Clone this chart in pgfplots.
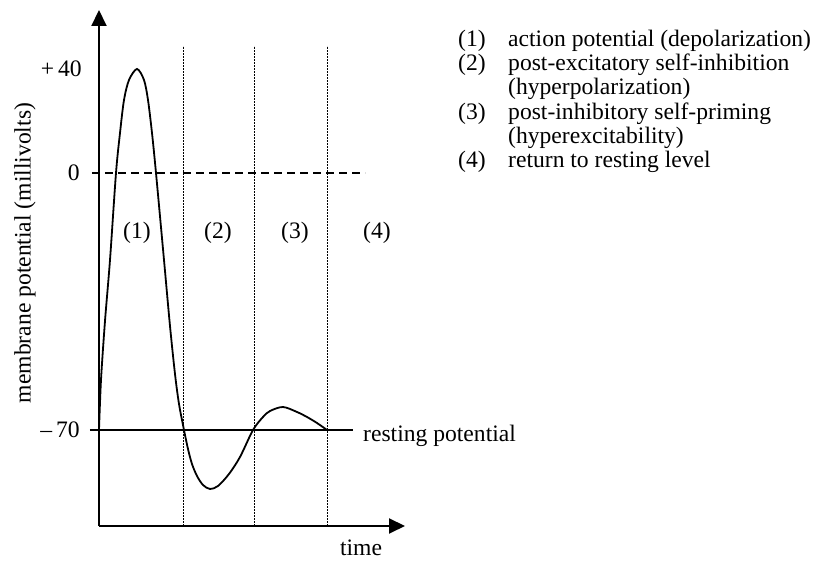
\documentclass[border=0pt]{standalone}
\usepackage{pgfplots}
\pgfplotsset{compat=1.18}
\usepackage{fontspec}
\setmainfont{Liberation Serif}
\usetikzlibrary{arrows.meta}
\newcommand\lbl{\fontsize{23.6}{27}\selectfont}
\tikzset{lab/.style={font=\lbl, inner sep=0pt}}
\begin{document}
\begin{tikzpicture}
\begin{axis}[
  x=1pt, y=1pt,
  xmin=0, xmax=306, ymin=0, ymax=516,
  enlargelimits=false,
  axis lines=left,
  axis line style={line width=2pt, -{Triangle[length=16pt,width=15pt]}},
  xtick=\empty, ytick=\empty,
  clip=false,
]
% invisible frame for the page size
\path (axis cs:-99,-35) rectangle (axis cs:718,526);

% action potential curve
\addplot[line width=1.8pt, smooth, tension=0.5] coordinates {
(0,96) (2,146) (6,205) (11,266) (17,353) (21,393) (25,426) (30,446) (38,457)
(45,446) (49,426) (53,393) (57,353) (65,266) (71,200) (76,152) (80,122) (85,96)
(89,77) (93,62) (98,50) (104,41) (111,37) (119,40) (130,52) (141,69) (154,96)
(164,109) (171,115) (184,119) (198,114) (208,109) (218,103) (228,96)};

% zero line (dashed)
\addplot[line width=1.6pt, dash pattern=on 8pt off 5pt] coordinates {(-7,353) (266,353)};
% resting potential line
\addplot[line width=1.8pt] coordinates {(-9,96) (254,96)};
% phase boundaries (dotted)
\addplot[line width=1pt, dash pattern=on 0.8pt off 0.7pt] coordinates {(85,0) (85,480)};
\addplot[line width=1pt, dash pattern=on 0.8pt off 0.7pt] coordinates {(155,0) (155,480)};
\addplot[line width=1pt, dash pattern=on 0.8pt off 0.7pt] coordinates {(228,0) (228,480)};

% y tick labels
\node[lab, anchor=east] at (axis cs:-17,457) {+\,40};
\node[lab, anchor=east] at (axis cs:-19,353) {0};
\node[lab, anchor=east] at (axis cs:-19,96) {–\,70};
% axis labels
\node[lab, rotate=90] at (axis cs:-74,273) {membrane potential (millivolts)};
\node[lab] at (axis cs:262,-22) {time};
\node[lab, anchor=base west] at (axis cs:264,84) {resting potential};
% phase labels
\node[lab] at (axis cs:38,293) {(1)};
\node[lab] at (axis cs:119,293) {(2)};
\node[lab] at (axis cs:196,293) {(3)};
\node[lab] at (axis cs:278,293) {(4)};
% key
\node[lab, anchor=base west] at (axis cs:359,479) {(1)};
\node[lab, anchor=base west] at (axis cs:409,479) {action potential (depolarization)};
\node[lab, anchor=base west] at (axis cs:359,455) {(2)};
\node[lab, anchor=base west] at (axis cs:409,455) {post-excitatory self-inhibition};
\node[lab, anchor=base west] at (axis cs:409,431) {(hyperpolarization)};
\node[lab, anchor=base west] at (axis cs:359,406.5) {(3)};
\node[lab, anchor=base west] at (axis cs:409,406.5) {post-inhibitory self-priming};
\node[lab, anchor=base west] at (axis cs:409,382.5) {(hyperexcitability)};
\node[lab, anchor=base west] at (axis cs:359,358) {(4)};
\node[lab, anchor=base west] at (axis cs:409,358) {return to resting level};
\end{axis}
\end{tikzpicture}
\end{document}
